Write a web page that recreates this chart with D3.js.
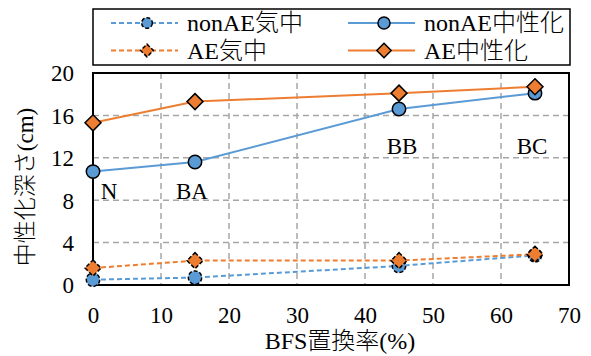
<!DOCTYPE html>
<html>
<head>
<meta charset="utf-8">
<script src="https://cdn.jsdelivr.net/npm/d3@7"></script>
</head>
<body style="margin:0;background:#fff">
<svg id="chart" width="591" height="356"></svg>
<script>
// BFS replacement ratio (%) for each mix
const bfsRatio = [0, 15, 45, 65];
const mixLabels = ["N", "BA", "BB", "BC"];

// Carbonation depth (cm)
const nonAEAir = [0.5, 0.7, 1.8, 2.8];
const nonAEAccel = [10.7, 11.6, 16.6, 18.1];
const aeAir = [1.6, 2.3, 2.3, 2.9];
const aeAccel = [15.3, 17.3, 18.1, 18.7];

const xTicks = [0, 10, 20, 30, 40, 50, 60, 70];
const yTicks = [0, 4, 8, 12, 16, 20];

const seriesNames = ["nonAE気中", "nonAE中性化", "AE気中", "AE中性化"];

const BLUE = "#5b9bd5", ORANGE = "#ed7d31";
const LATIN = '"Liberation Serif", serif';
const CJK = '"Noto Sans CJK JP", sans-serif';

const series = [
  { name: seriesNames[0], values: nonAEAir, color: BLUE, dashed: true, shape: "circle" },
  { name: seriesNames[1], values: nonAEAccel, color: BLUE, dashed: false, shape: "circle" },
  { name: seriesNames[2], values: aeAir, color: ORANGE, dashed: true, shape: "diamond" },
  { name: seriesNames[3], values: aeAccel, color: ORANGE, dashed: false, shape: "diamond" }
];

const svg = d3.select("#chart");
const m = { left: 93, right: 569, top: 73, bottom: 285 };

const x = d3.scaleLinear().domain([0, 70]).range([m.left, m.right]);
const y = d3.scaleLinear().domain([0, 20]).range([m.bottom, m.top]);

// write mixed Latin / Japanese text: serif for Latin, gothic for kana & kanji
function mixedText(sel, str) {
  const runs = str.match(/[\u3000-\u9fff]+|[^\u3000-\u9fff]+/g) || [];
  runs.forEach(r => {
    const cjk = /[\u3000-\u9fff]/.test(r);
    sel.append("tspan").text(r)
      .style("font-family", cjk ? CJK : LATIN)
      .style("font-weight", cjk ? 300 : 400);
  });
  return sel;
}

// dashed grid
const grid = svg.append("g");
grid.selectAll("line.gx").data(xTicks.slice(1, -1)).join("line")
  .attr("x1", d => x(d)).attr("x2", d => x(d))
  .attr("y1", m.top).attr("y2", m.bottom)
  .attr("stroke", "#a6a6a6").attr("stroke-width", 1.5).attr("stroke-dasharray", "6,4");
grid.selectAll("line.gy").data(yTicks.slice(1, -1)).join("line")
  .attr("x1", m.left).attr("x2", m.right)
  .attr("y1", d => y(d)).attr("y2", d => y(d))
  .attr("stroke", "#a6a6a6").attr("stroke-width", 1.5).attr("stroke-dasharray", "6,4");

// plot frame
svg.append("rect")
  .attr("x", m.left).attr("y", m.top)
  .attr("width", m.right - m.left).attr("height", m.bottom - m.top)
  .attr("fill", "none").attr("stroke", "#000").attr("stroke-width", 2);

// axes (labels only, frame drawn above)
const xAxis = svg.append("g").attr("transform", `translate(0,${m.bottom})`)
  .call(d3.axisBottom(x).tickValues(xTicks).tickSize(0).tickPadding(22));
const yAxis = svg.append("g").attr("transform", `translate(${m.left},0)`)
  .call(d3.axisLeft(y).tickValues(yTicks).tickSize(0).tickPadding(19));
[xAxis, yAxis].forEach(a => {
  a.select(".domain").remove();
  a.selectAll("text").style("font-size", "23px").style("font-family", LATIN).attr("fill", "#000");
});
yAxis.selectAll("text").attr("dy", "0.34em");

// axis titles
mixedText(svg.append("text").attr("x", 340).attr("y", 349)
  .attr("text-anchor", "middle").style("font-size", "24px").attr("fill", "#000"), "BFS置換率(%)");
mixedText(svg.append("text")
  .attr("transform", "translate(33,187) rotate(-90)")
  .attr("text-anchor", "middle").style("font-size", "23px").attr("fill", "#000"), "中性化深さ(cm)");

const line = d3.line().x((d, i) => x(bfsRatio[i])).y(d => y(d));

function drawMarker(g, shape, cx, cy, color, dashed, scale) {
  const s = scale || 1;
  if (shape === "circle") {
    g.append("circle").attr("cx", cx).attr("cy", cy).attr("r", 6.7 * s)
      .attr("fill", color).attr("stroke", "#000").attr("stroke-width", 1.5)
      .attr("stroke-dasharray", dashed ? "4,2" : null);
  } else {
    const r = 8 * s;
    g.append("path")
      .attr("d", `M${cx},${cy - r}L${cx + r},${cy}L${cx},${cy + r}L${cx - r},${cy}Z`)
      .attr("fill", color).attr("stroke", "#000").attr("stroke-width", 1.5)
      .attr("stroke-dasharray", dashed ? "4,2" : null);
  }
}

// lines then markers
series.forEach(s => {
  svg.append("path").datum(s.values).attr("d", line)
    .attr("fill", "none").attr("stroke", s.color).attr("stroke-width", 2)
    .attr("stroke-dasharray", s.dashed ? "5,3" : null);
});
series.forEach(s => {
  const g = svg.append("g");
  s.values.forEach((v, i) => drawMarker(g, s.shape, x(bfsRatio[i]), y(v), s.color, s.dashed));
});

// mix name labels (offset from each mix's x position)
const labelPos = [
  { dx: 16, v: 8.1 }, { dx: -3, v: 8.1 }, { dx: 3, v: 12.35 }, { dx: -3, v: 12.35 }
];
mixLabels.forEach((t, i) => {
  svg.append("text")
    .attr("x", x(bfsRatio[i]) + labelPos[i].dx)
    .attr("y", y(labelPos[i].v))
    .attr("text-anchor", "middle").style("font-size", "23px")
    .style("font-family", LATIN).attr("fill", "#000").text(t);
});

// legend
const leg = svg.append("g");
leg.append("rect").attr("x", 93).attr("y", 9).attr("width", 477).attr("height", 56)
  .attr("fill", "#fff").attr("stroke", "#000").attr("stroke-width", 1.5);
const legPos = [
  { lx: 111, ty: 23 }, { lx: 348, ty: 23 }, { lx: 111, ty: 50.5 }, { lx: 348, ty: 50.5 }
];
series.forEach((s, i) => {
  const p = legPos[i];
  leg.append("line").attr("x1", p.lx).attr("x2", p.lx + 67)
    .attr("y1", p.ty).attr("y2", p.ty)
    .attr("stroke", s.color).attr("stroke-width", 2)
    .attr("stroke-dasharray", s.dashed ? "5,3" : null);
  drawMarker(leg, s.shape, p.lx + 36, p.ty, s.color, s.dashed, s.dashed ? 0.8 : 0.9);
  mixedText(leg.append("text").attr("x", p.lx + 76).attr("y", p.ty + 8)
    .style("font-size", "24px").attr("fill", "#000"), s.name);
});
</script>
</body>
</html>
